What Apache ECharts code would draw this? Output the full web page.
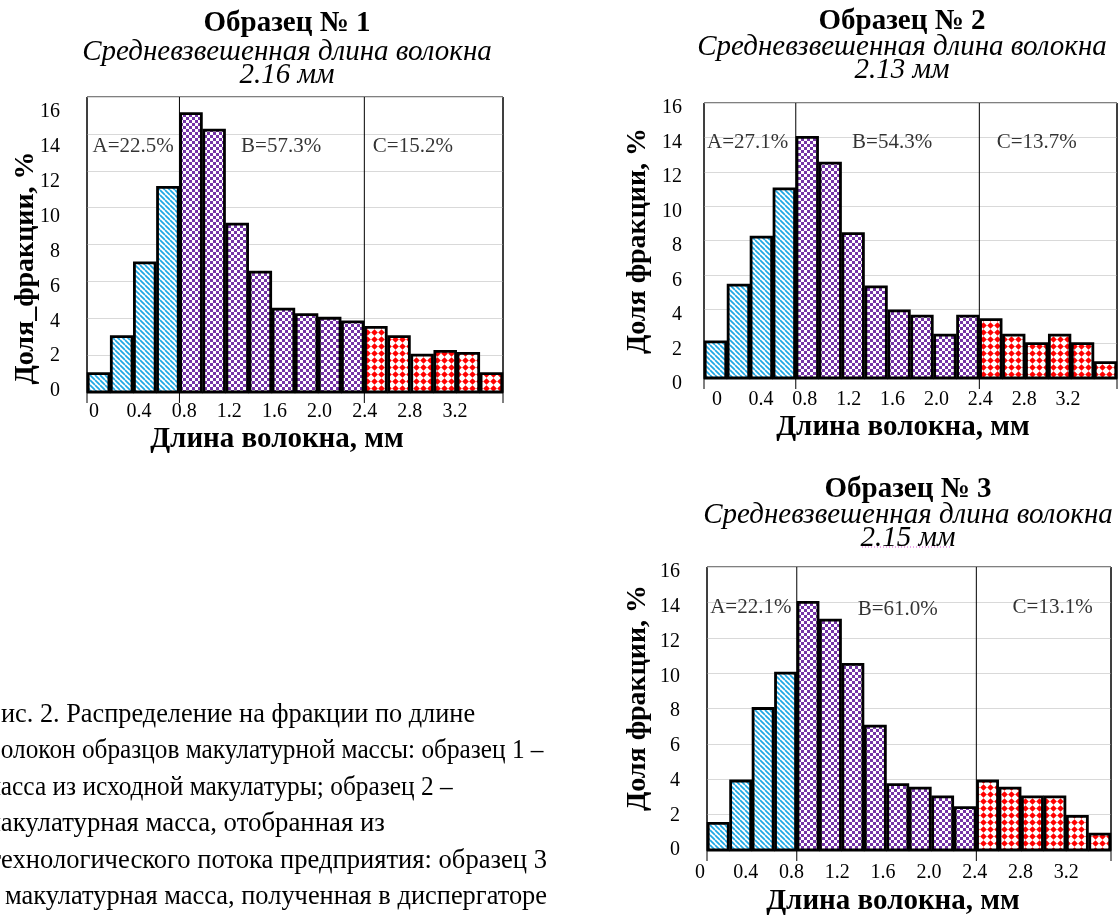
<!DOCTYPE html>
<html>
<head>
<meta charset="utf-8">
<script src="https://cdn.jsdelivr.net/npm/echarts@6/dist/echarts.min.js"></script>
<style>
html,body{margin:0;padding:0;background:#fff;}
#main{width:1118px;height:915px;}
</style>
</head>
<body>
<div id="main"></div>
<script>
// границы фракций, мм
var binEdges = [0, 0.2, 0.4, 0.6, 0.8, 1.0, 1.2, 1.4, 1.6, 1.8, 2.0, 2.2, 2.4, 2.6, 2.8, 3.0, 3.2, 3.4, 3.6];
// доля фракции, %
var sample1 = [1.0, 3.0, 7.0, 11.1, 15.1, 14.2, 9.1, 6.5, 4.5, 4.2, 4.0, 3.8, 3.5, 3.0, 2.0, 2.2, 2.1, 1.0];
var sample2 = [2.1, 5.4, 8.2, 11.0, 14.0, 12.5, 8.4, 5.3, 3.9, 3.6, 2.5, 3.6, 3.4, 2.5, 2.0, 2.5, 2.0, 0.9];
var sample3 = [1.5, 3.9, 8.0, 10.0, 14.0, 13.0, 10.5, 7.0, 3.7, 3.5, 3.0, 2.4, 3.9, 3.5, 3.0, 3.0, 1.9, 0.9];
var dividers = [0, 0.8, 2.4, 3.6];
var titles = ['Образец № 1', 'Образец № 2', 'Образец № 3'];
var meanLength = ['2.16 мм', '2.13 мм', '2.15 мм'];
var shares1 = ['A=22.5%', 'B=57.3%', 'C=15.2%'];
var shares2 = ['A=27.1%', 'B=54.3%', 'C=13.7%'];
var shares3 = ['A=22.1%', 'B=61.0%', 'C=13.1%'];
var sharePos1 = [[0.40, 13.3], [1.68, 13.3], [2.82, 13.3]];
var sharePos2 = [[0.38, 13.7], [1.64, 13.7], [2.90, 13.7]];
var sharePos3 = [[0.39, 13.7], [1.70, 13.6], [3.08, 13.7]];
var captionLines = [
	'Рис. 2. Распределение на фракции по длине',
	'волокон образцов макулатурной массы: образец 1 –',
	'масса из исходной макулатуры; образец 2 –',
	'макулатурная масса, отобранная из',
	'технологического потока предприятия: образец 3',
	'– макулатурная масса, полученная в диспергаторе'
];
var captionEnds = [475, 543, 452, 385, 547, 547];

var FONT = '"Liberation Serif","Times New Roman",serif';

function makePattern(kind){
	var c = document.createElement('canvas');
	var ctx;
	if(kind=='A'){
		c.width = 5; c.height = 5;
		ctx = c.getContext('2d');
		ctx.fillStyle = '#fff'; ctx.fillRect(0,0,5,5);
		ctx.strokeStyle = '#1ea7e4'; ctx.lineWidth = 1.7;
		for(var k=-1;k<=1;k++){
			ctx.beginPath(); ctx.moveTo(k*5,0); ctx.lineTo(k*5+5,5); ctx.stroke();
		}
	}else if(kind=='B'){
		c.width = 6; c.height = 6;
		ctx = c.getContext('2d');
		ctx.fillStyle = '#7434a6'; ctx.fillRect(0,0,6,6);
		ctx.fillStyle = '#fff';
		ctx.fillRect(0,0,3,3); ctx.fillRect(3,3,3,3);
	}else{
		c.width = 7; c.height = 7;
		ctx = c.getContext('2d');
		ctx.fillStyle = '#fff'; ctx.fillRect(0,0,7,7);
		ctx.fillStyle = '#ff0000';
		ctx.beginPath();
		ctx.moveTo(3.5,0.2); ctx.lineTo(6.8,3.5); ctx.lineTo(3.5,6.8); ctx.lineTo(0.2,3.5);
		ctx.closePath(); ctx.fill();
	}
	return {image:c, repeat:'repeat'};
}
var patterns = {A:makePattern('A'), B:makePattern('B'), C:makePattern('C')};

function renderBar(params, api){
	var x0 = api.value(0), x1 = api.value(1), v = api.value(2);
	var p0 = api.coord([x0, v]), p1 = api.coord([x1, 0]);
	var key = x0 < 0.79 ? 'A' : (x0 < 2.39 ? 'B' : 'C');
	return {
		type:'rect',
		shape:{x:p0[0]+1.2, y:p0[1], width:p1[0]-p0[0]-2.4, height:p1[1]-p0[1]},
		style:{fill:patterns[key], stroke:'#000', lineWidth:2.8}
	};
}
function renderDivider(params, api){
	var top = api.coord([api.value(0), 16]), bot = api.coord([api.value(0), 0]);
	return {
		type:'line',
		shape:{x1:top[0], y1:top[1], x2:bot[0], y2:bot[1]+11},
		style:{stroke:'#000', lineWidth:1}
	};
}
function barData(values){
	var out = [];
	for(var i=0;i<values.length;i++) out.push([binEdges[i], binEdges[i+1], values[i]]);
	return out;
}
function tickText(v){ if(v>3.5) return ''; return v==0 ? '0' : v.toFixed(1); }

// области построения
var plotGrids = [
	{left:87, top:97, width:416, height:295},
	{left:704, top:103, width:413, height:275},
	{left:707, top:567, width:404, height:283}
];
// подписи шкал в оригинале смещены относительно сетки
var labelGrids = [
	{left:94, top:112, width:406, height:279, xm:11, ym:34},
	{left:717, top:108, width:395, height:276, xm:6, ym:35},
	{left:700, top:572, width:412, height:278, xm:13, ym:20}
];
var samples = [sample1, sample2, sample3];
var shares = [shares1, shares2, shares3];
var sharePos = [sharePos1, sharePos2, sharePos3];
var grids = [], xAxes = [], yAxes = [], series = [];

plotGrids.forEach(function(g, i){
	grids.push({left:g.left, top:g.top, width:g.width, height:g.height, show:true, borderColor:'#000', borderWidth:1, backgroundColor:'transparent'});
	xAxes.push({
		gridIndex:i, type:'value', min:0, max:3.6, interval:0.4,
		axisLine:{show:true, lineStyle:{color:'#000', width:1}},
		axisTick:{show:false}, splitLine:{show:false}, axisLabel:{show:false}
	});
	yAxes.push({
		gridIndex:i, type:'value', min:0, max:16, interval:2,
		axisLine:{show:false}, axisTick:{show:false}, axisLabel:{show:false},
		splitLine:{show:true, lineStyle:{color:'#d9d9d9', width:1}}
	});
	series.push({
		type:'custom', xAxisIndex:i, yAxisIndex:i,
		renderItem:renderDivider, data:dividers.map(function(d){return [d];}),
		encode:{x:0}, silent:true, clip:false, z:3
	});
	series.push({
		type:'custom', xAxisIndex:i, yAxisIndex:i,
		renderItem:renderBar, data:barData(samples[i]),
		encode:{x:[0,1], y:2}, silent:true, clip:false, z:4
	});
	series.push({
		type:'scatter', xAxisIndex:i, yAxisIndex:i, symbolSize:0, silent:true, z:5,
		data:sharePos[i].map(function(p, k){ return {value:p, name:shares[i][k]}; }),
		label:{show:true, position:'inside', formatter:'{b}', color:'#000', fontFamily:FONT, fontSize:21}
	});
});
labelGrids.forEach(function(g, i){
	var gi = plotGrids.length + i;
	grids.push({left:g.left, top:g.top, width:g.width, height:g.height, show:false});
	xAxes.push({
		gridIndex:gi, type:'value', min:0, max:3.6, interval:0.4,
		axisLine:{show:false}, axisTick:{show:false}, splitLine:{show:false},
		axisLabel:{margin:g.xm, color:'#000', fontFamily:FONT, fontSize:20, formatter:tickText}
	});
	yAxes.push({
		gridIndex:gi, type:'value', min:0, max:16, interval:2,
		axisLine:{show:false}, axisTick:{show:false}, splitLine:{show:false},
		axisLabel:{margin:g.ym, color:'#000', fontFamily:FONT, fontSize:20}
	});
});

var graphics = [];
var head = [[287, 24, 52, 75], [902, 22, 47, 70], [908, 490, 515, 538]];
var xNames = [[277, 440], [903, 428], [893, 902]];
var yNames = [[26, 268], [638, 241], [638, 698]];
var yNameText = ['Доля_фракции, %', 'Доля фракции, %', 'Доля фракции, %'];
head.forEach(function(h, i){
	graphics.push({type:'text', x:h[0], y:h[1], style:{text:titles[i], fill:'#000', font:'bold 29px '+FONT, textAlign:'center', textVerticalAlign:'middle'}});
	graphics.push({type:'text', x:h[0], y:h[2], style:{text:'Средневзвешенная длина волокна', fill:'#000', font:'italic 29px '+FONT, textAlign:'center', textVerticalAlign:'middle'}});
	graphics.push({type:'text', x:h[0], y:h[3], style:{text:meanLength[i], fill:'#000', font:'italic 29px '+FONT, textAlign:'center', textVerticalAlign:'middle'}});
	graphics.push({type:'text', x:xNames[i][0], y:xNames[i][1], style:{text:'Длина волокна, мм', fill:'#000', font:'bold 29px '+FONT, textAlign:'center', textVerticalAlign:'middle'}});
	graphics.push({type:'text', x:yNames[i][0], y:yNames[i][1], rotation:Math.PI/2, style:{text:yNameText[i], fill:'#000', font:'bold 28px '+FONT, textAlign:'center', textVerticalAlign:'middle'}});
});
// подчёркивание орфографии под "2.15 мм"
graphics.push({type:'line', shape:{x1:862, y1:547, x2:952, y2:547}, style:{stroke:'#d24fd2', lineWidth:1, lineDash:[1,2]}});

// подпись к рисунку (обрезана слева краем кадра)
var mctx = document.createElement('canvas').getContext('2d');
mctx.font = '26.5px ' + FONT;
captionLines.forEach(function(line, i){
	var shift = i==5 ? mctx.measureText('– ').width - 5 : mctx.measureText(line.charAt(0)).width - 1;
	var w = mctx.measureText(line).width;
	var sx = (captionEnds[i] + shift) / w;
	graphics.push({type:'text', x:-shift*sx, y:715 + i*36.4, scaleX:sx, style:{text:line, fill:'#000', font:'26.5px '+FONT, textVerticalAlign:'middle'}});
});

var chart = echarts.init(document.getElementById('main'));
chart.setOption({
	animation:false,
	backgroundColor:'#fff',
	grid:grids,
	xAxis:xAxes,
	yAxis:yAxes,
	series:series,
	graphic:graphics
});
</script>
</body>
</html>
